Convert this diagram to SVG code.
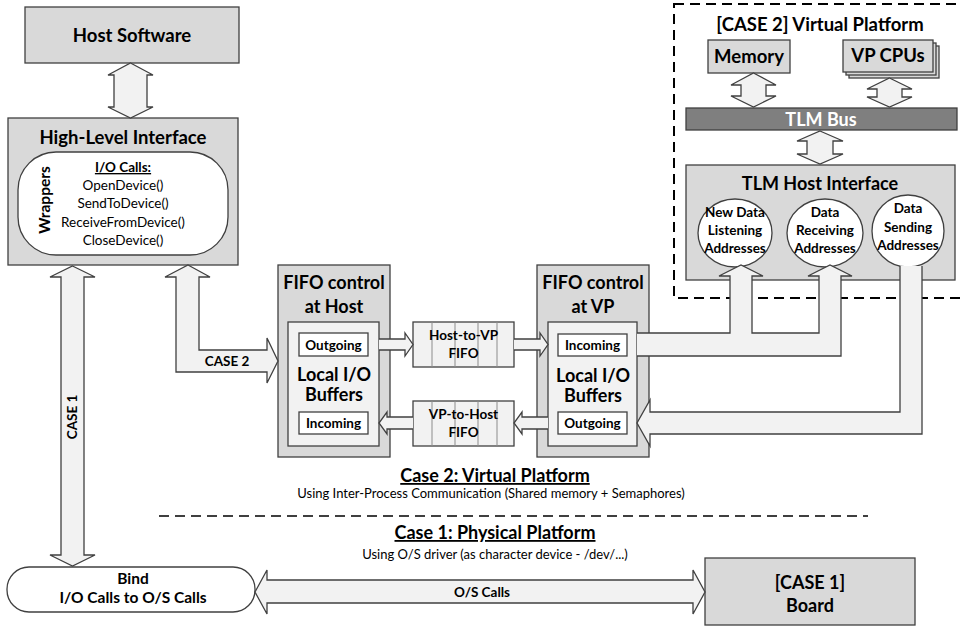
<svg xmlns="http://www.w3.org/2000/svg" width="962" height="627" viewBox="0 0 962 627">
<style>
.box{fill:#d9d9d9;stroke:#404040;stroke-width:1.3}
.inner{fill:#f2f2f2;stroke:#404040;stroke-width:1.3}
.wb{fill:#fff;stroke:#404040;stroke-width:1.3}
.arr{fill:#f2f2f2;stroke:#404040;stroke-width:1.3;stroke-linejoin:miter}
.af{fill:#f2f2f2;stroke:none}
.as{fill:none;stroke:#404040;stroke-width:1.3}
.div{stroke:#8c8c8c;stroke-width:1}
text{font-family:Lato,"Open Sans",sans-serif;fill:#000;text-anchor:middle}
.b17{font-size:18px;font-weight:bold}
.b18{font-size:18.5px;font-weight:bold}
.b16{font-size:15.5px;font-weight:bold}
.b13{font-size:13.5px;font-weight:bold}
.r13{font-size:13.5px}
.r12{font-size:13px}
.u{text-decoration:underline}
.dash{fill:none;stroke:#000;stroke-width:2;stroke-dasharray:10 6}
</style>

<g id="vp-container">
<rect class="dash" x="674" y="4" width="300" height="294"/>
<text class="b18" x="820" y="31">[CASE 2] Virtual Platform</text>
</g>

<g id="host-software">
<rect class="box" x="25" y="7" width="214" height="56"/>
<text class="b18" x="132" y="42">Host Software</text>
</g>

<g id="high-level-interface">
<rect class="box" x="8" y="118" width="230" height="147"/>
<text class="b18" x="123" y="144">High-Level Interface</text>
<rect class="wb" x="18" y="152" width="210" height="103" rx="38" ry="38"/>
<text class="b16" transform="translate(50,200) rotate(-90)">Wrappers</text>
<text class="b13 u" x="123" y="172">I/O Calls:</text>
<text class="r13" x="123" y="190">OpenDevice()</text>
<text class="r13" x="123" y="208">SendToDevice()</text>
<text class="r13" x="123" y="227">ReceiveFromDevice()</text>
<text class="r13" x="123" y="245">CloseDevice()</text>
</g>

<g id="fifo-host">
<rect class="box" x="278" y="265" width="112" height="192"/>
<text class="b17" x="334" y="289">FIFO control</text>
<text class="b17" x="334" y="313">at Host</text>
<rect class="inner" x="288" y="322" width="91" height="124"/>
<rect class="wb" x="299" y="333" width="69" height="23"/>
<text class="b13" x="333.5" y="349.5">Outgoing</text>
<text class="b17" x="334" y="381">Local I/O</text>
<text class="b17" x="334" y="401">Buffers</text>
<rect class="wb" x="299" y="412" width="69" height="22"/>
<text class="b13" x="333.5" y="428">Incoming</text>
</g>

<g id="fifo-vp">
<rect class="box" x="537" y="265" width="112" height="192"/>
<text class="b17" x="593" y="289">FIFO control</text>
<text class="b17" x="593" y="313">at VP</text>
<rect class="inner" x="548" y="322" width="89" height="124"/>
<rect class="wb" x="558" y="334" width="69" height="22"/>
<text class="b13" x="592.5" y="350">Incoming</text>
<text class="b17" x="593" y="382">Local I/O</text>
<text class="b17" x="593" y="402">Buffers</text>
<rect class="wb" x="558" y="412" width="69" height="22"/>
<text class="b13" x="592.5" y="428">Outgoing</text>
</g>

<g id="host-to-vp-fifo">
<rect class="inner" x="413" y="322" width="101" height="45"/>
<line class="div" x1="432" y1="322" x2="432" y2="367"/>
<line class="div" x1="455" y1="322" x2="455" y2="367"/>
<line class="div" x1="478" y1="322" x2="478" y2="367"/>
<line class="div" x1="497" y1="322" x2="497" y2="367"/>
<text class="b13" x="463.5" y="340">Host-to-VP</text>
<text class="b13" x="463.5" y="358">FIFO</text>
</g>

<g id="vp-to-host-fifo">
<rect class="inner" x="413" y="401" width="101" height="45"/>
<line class="div" x1="432" y1="401" x2="432" y2="446"/>
<line class="div" x1="455" y1="401" x2="455" y2="446"/>
<line class="div" x1="478" y1="401" x2="478" y2="446"/>
<line class="div" x1="497" y1="401" x2="497" y2="446"/>
<text class="b13" x="463.5" y="419">VP-to-Host</text>
<text class="b13" x="463.5" y="437">FIFO</text>
</g>

<g id="memory">
<rect class="box" x="708" y="40" width="82" height="33"/>
<text class="b18" x="749" y="63">Memory</text>
</g>

<g id="vp-cpus">
<rect class="box" x="849" y="46" width="90" height="32"/>
<rect class="box" x="846" y="43" width="90" height="32"/>
<rect class="box" x="843" y="40" width="90" height="32"/>
<text class="b18" x="888" y="62">VP CPUs</text>
</g>

<g id="tlm-bus">
<rect x="686" y="108" width="271" height="22" fill="#7f7f7f" stroke="#404040" stroke-width="1.3"/>
<text class="b17" x="821" y="125.5" style="fill:#fff">TLM Bus</text>
</g>

<g id="tlm-host-interface">
<rect class="box" x="686" y="165" width="269" height="115"/>
<text class="b17" x="820" y="189.5">TLM Host Interface</text>
<ellipse class="wb" cx="735" cy="233" rx="37" ry="34"/>
<text class="b13" x="735" y="216.5">New Data</text>
<text class="b13" x="735" y="234.5">Listening</text>
<text class="b13" x="735" y="252.5">Addresses</text>
<ellipse class="wb" cx="825" cy="233" rx="38" ry="34"/>
<text class="b13" x="825" y="216.5">Data</text>
<text class="b13" x="825" y="234.5">Receiving</text>
<text class="b13" x="825" y="252.5">Addresses</text>
<ellipse class="wb" cx="908" cy="231" rx="36" ry="36"/>
<text class="b13" x="908" y="212.5">Data</text>
<text class="b13" x="908" y="231.5">Sending</text>
<text class="b13" x="908" y="249.5">Addresses</text>
</g>

<g id="bind">
<rect class="wb" x="7" y="567" width="248" height="45" rx="22" ry="22"/>
<text class="b16" x="133" y="584">Bind</text>
<text class="b16" x="133" y="603">I/O Calls to O/S Calls</text>
</g>

<g id="board">
<rect class="box" x="705" y="558" width="210" height="67"/>
<text class="b17" x="810" y="588.5">[CASE 1]</text>
<text class="b17" x="810" y="612">Board</text>
</g>

<g id="captions">
<text class="b17 u" x="495" y="482">Case 2: Virtual Platform</text>
<text class="r12" x="491" y="498">Using Inter-Process Communication (Shared memory + Semaphores)</text>
<line class="dash" x1="159" y1="516" x2="868" y2="516" style="stroke-width:1.5"/>
<text class="b17 u" x="495" y="539">Case 1: Physical Platform</text>
<text class="r12" x="495" y="559">Using O/S driver (as character device - /dev/...)</text>
</g>

<g id="connectors">
<polygon class="arr" points="130.5,63 153,75 147,75 147,107 153,107 130.5,118 108,107 114,107 114,75 108,75"/>
<polygon class="arr" points="72.5,266 95,277 84,277 84,555 95,555 72.5,566 50,555 61,555 61,277 50,277"/>
<text class="b13" transform="translate(77,417) rotate(-90)">CASE 1</text>
<polygon class="arr" points="188,265 210,277 199,277 199,350 267,350 267,338 278,361 267,383 267,372 176,372 176,277 165,277"/>
<text class="b13" x="227" y="366">CASE 2</text>
<polygon class="af" points="379,339 405,339 405,333 413,344.5 405,356 405,350 379,350"/>
<polyline class="as" points="379,339 405,339 405,333 413,344.5 405,356 405,350 379,350"/>
<polygon class="af" points="514,339 540,339 540,333 548,344.5 540,356 540,350 514,350"/>
<polyline class="as" points="514,339 540,339 540,333 548,344.5 540,356 540,350 514,350"/>
<polygon class="af" points="548,417 522,417 522,412 514,423 522,434 522,429 548,429"/>
<polyline class="as" points="548,417 522,417 522,412 514,423 522,434 522,429 548,429"/>
<polygon class="af" points="413,417 387,417 387,412 379,423 387,434 387,429 413,429"/>
<polyline class="as" points="413,417 387,417 387,412 379,423 387,434 387,429 413,429"/>
<polygon class="arr" points="753.5,73 776,85 766,85 766,96 776,96 753.5,107 731,96 741,96 741,85 731,85"/>
<polygon class="arr" points="889.5,78 912,89 902,89 902,97 912,97 889.5,107 867,97 877,97 877,89 867,89"/>
<polygon class="arr" points="820,131 843,141 833,141 833,154 843,154 820,164 797,154 807,154 807,141 797,141"/>
<polygon class="af" points="637,333 730,333 730,276 719,276 741,265 763,276 752,276 752,333 819,333 819,276 808,276 830,265 852,276 841,276 841,356 637,356"/>
<polyline class="as" points="637,333 730,333 730,276 719,276 741,265 763,276 752,276 752,333 819,333 819,276 808,276 830,265 852,276 841,276 841,356 637,356"/>
<polygon class="af" points="900,266 922,266 922,434 650,434 650,446 637,423 650,400 650,412 900,412"/>
<polyline class="as" points="922,266 922,434 650,434 650,446 637,423 650,400 650,412 900,412 900,266"/>
<polygon class="arr" points="255,592 267,570 267,580 693,580 693,570 705,592 693,614 693,603 267,603 267,614"/>
<text class="b13" x="482" y="597">O/S Calls</text>
</g>
</svg>
